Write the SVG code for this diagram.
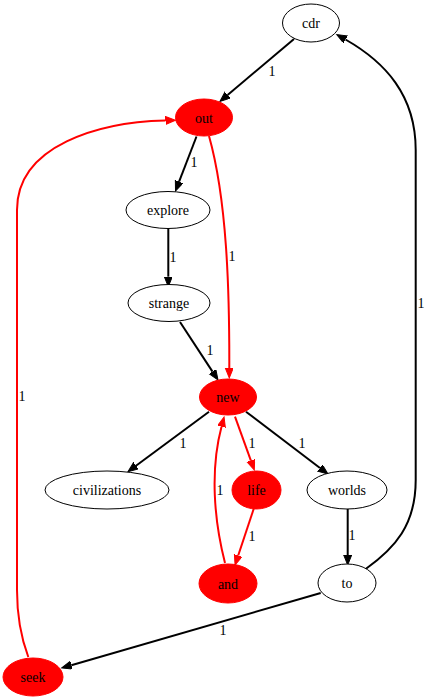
<svg xmlns="http://www.w3.org/2000/svg" width="427" height="700" viewBox="0 0 427 700">
  <style>
    .node ellipse { stroke: #000; stroke-width: 1; fill: #fff; }
    .node.hot ellipse { fill: #ff0000; stroke: #ff0000; }
    text { font-size: 14px; fill: #000; text-anchor: middle; }
    .edge { fill: none; stroke: #000; stroke-width: 2; }
    .edge.red { stroke: #ff0000; }
  </style>
  <defs>
    <marker id="ah" markerUnits="userSpaceOnUse" markerWidth="12" markerHeight="10" refX="0" refY="4" orient="auto">
      <path d="M0,0 L10,4 L0,8 Z" fill="#000" stroke="#000" stroke-width="1"/>
    </marker>
    <marker id="ahr" markerUnits="userSpaceOnUse" markerWidth="12" markerHeight="10" refX="0" refY="4" orient="auto">
      <path d="M0,0 L10,4 L0,8 Z" fill="#ff0000" stroke="#ff0000" stroke-width="1"/>
    </marker>
  </defs>

  <g font-family="Liberation Serif, DejaVu Serif, serif">
  <g id="edges">
    <path class="edge" d="M294,39 L227.6,95" marker-end="url(#ah)"/>
    <text x="272" y="76">1</text>

    <path class="edge" d="M196.5,136.5 L179.1,181.7" marker-end="url(#ah)"/>
    <text x="194" y="167">1</text>

    <path class="edge red" d="M209,136 C227,200 229.5,290 229.3,368" marker-end="url(#ahr)"/>
    <text x="232" y="261">1</text>

    <path class="edge" d="M168.3,228 L168.3,276.7" marker-end="url(#ah)"/>
    <text x="173" y="262">1</text>

    <path class="edge" d="M180,322 L212.5,371.6" marker-end="url(#ah)"/>
    <text x="210" y="355">1</text>

    <path class="edge" d="M209,411.7 L136,465.7" marker-end="url(#ah)"/>
    <text x="183" y="448">1</text>

    <path class="edge red" d="M235,416.7 L250.9,460.6" marker-end="url(#ahr)"/>
    <text x="252" y="448">1</text>

    <path class="edge" d="M246,411.7 L320,468" marker-end="url(#ah)"/>
    <text x="302" y="448">1</text>

    <path class="edge red" d="M225,563 C214,520 210,470 221.5,426.7" marker-end="url(#ahr)"/>
    <text x="220" y="495">1</text>

    <path class="edge red" d="M254,508 L238.2,555.5" marker-end="url(#ahr)"/>
    <text x="252" y="541">1</text>

    <path class="edge" d="M347.7,509 L347.7,555" marker-end="url(#ah)"/>
    <text x="352" y="540">1</text>

    <path class="edge" d="M320.7,593 L71.3,665.2" marker-end="url(#ah)"/>
    <text x="223" y="635">1</text>

    <path class="edge" d="M365.7,569 C395,548 415.7,525 415.7,480 L415.7,150 C415.7,95 385,62 345.5,39.5" marker-end="url(#ah)"/>
    <text x="421" y="308">1</text>

    <path class="edge red" d="M28.3,657 C20,635 17,615 17,590 L17,210 C17,145 100,122 165.5,120.5" marker-end="url(#ahr)"/>
    <text x="22" y="401">1</text>
  </g>

  <g id="cdr" class="node"><ellipse cx="311" cy="23" rx="28.5" ry="19"/><text x="311" y="28">cdr</text></g>
  <g id="out" class="node hot"><ellipse cx="204" cy="117.5" rx="28.5" ry="18.5"/><text x="204" y="122.5">out</text></g>
  <g id="explore" class="node"><ellipse cx="168" cy="210" rx="42" ry="18.5"/><text x="168" y="215">explore</text></g>
  <g id="strange" class="node"><ellipse cx="169" cy="303" rx="41" ry="18.5"/><text x="169" y="308">strange</text></g>
  <g id="new" class="node hot"><ellipse cx="228" cy="397" rx="28.5" ry="18"/><text x="228" y="402">new</text></g>
  <g id="civilizations" class="node"><ellipse cx="107" cy="490" rx="62" ry="19"/><text x="107" y="495">civilizations</text></g>
  <g id="life" class="node hot"><ellipse cx="256.5" cy="490" rx="24.5" ry="19"/><text x="256.5" y="495">life</text></g>
  <g id="worlds" class="node"><ellipse cx="347" cy="490" rx="40" ry="19"/><text x="347" y="495">worlds</text></g>
  <g id="and" class="node hot"><ellipse cx="228" cy="583.5" rx="29" ry="19.5"/><text x="228" y="588.5">and</text></g>
  <g id="to" class="node"><ellipse cx="347" cy="583" rx="29" ry="19"/><text x="347" y="588">to</text></g>
  <g id="seek" class="node hot"><ellipse cx="33" cy="677" rx="30" ry="19"/><text x="33" y="682">seek</text></g>
  </g>
</svg>
